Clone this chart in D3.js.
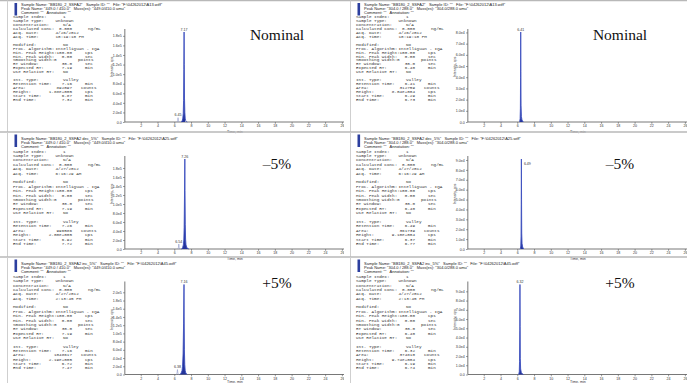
<!DOCTYPE html>
<html><head><meta charset="utf-8">
<script src="https://cdn.jsdelivr.net/npm/d3@7"></script>
<style>body{margin:0;background:#fff}svg{display:block}</style>
</head><body>
<script>
// ---------- DATA ----------
const panelColumn = [0, 1, 0, 1, 0, 1];
const panelRow    = [0, 0, 1, 1, 2, 2];
const conditionLabels = ["Nominal", "Nominal", "\u20135%", "\u20135%", "+5%", "+5%"];
const sampleNames = ["BB180_2_SSFA2", "BB180_2_SSFA2", "BB180_2_SSFA2 dec_5%", "BB180_2_SSFA2 dec_5%", "BB180_2_SSFA2 inc_5%", "BB180_2_SSFA2 inc_5%"];
const fileNames = ["F:\\04262012\\A13.wiff", "F:\\04262012\\A13.wiff", "F:\\04262012\\A25.wiff", "F:\\04262012\\A25.wiff", "F:\\04262012\\A45.wiff", "F:\\04262012\\A45.wiff"];
const peakNames = ["449.0 / 410.0", "304.0 / 288.0", "449.0 / 410.0", "304.0 / 288.0", "449.0 / 410.0", "304.0 / 288.0"];
const massNames = ["449.0/410.0 amu", "304.0/288.0 amu", "449.0/410.0 amu", "304.0/288.0 amu", "449.0/410.0 amu", "304.0/288.0 amu"];
const acqDates = ["4/26/2012", "4/26/2012", "4/27/2012", "4/27/2012", "4/27/2012", "4/27/2012"];
const acqTimes = ["10:19:10 PM", "10:19:10 PM", "6:16:29 AM", "6:16:29 AM", "2:13:45 PM", "2:13:45 PM"];
const expectedRT = ["7.19", "6.40", "7.19", "6.40", "7.19", "6.40"];
const retentionTimes = ["7.16", "6.41", "7.26", "6.49", "7.16", "6.32"];
const areas = ["892097", "312759", "996586", "361739", "1048617", "374810"];
const heights = ["1.88e+005", "8.04e+004", "2.00e+005", "9.10e+004", "2.19e+005", "9.74e+004"];
const startTimes = ["6.87", "6.29", "6.92", "6.37", "6.72", "6.19"];
const endTimes = ["7.32", "6.73", "7.72", "6.77", "7.47", "6.74"];

const yMax = [188000, 80400, 200000, 91000, 219000, 97400];
const yTickValues = [
  [0, 20000, 40000, 60000, 80000, 100000, 120000, 140000, 160000, 180000],
  [0, 10000, 20000, 30000, 40000, 50000, 60000, 70000, 80000],
  [0, 20000, 40000, 60000, 80000, 100000, 120000, 140000, 160000, 180000],
  [0, 10000, 20000, 30000, 40000, 50000, 60000, 70000, 80000, 90000],
  [0, 20000, 40000, 60000, 80000, 100000, 120000, 140000, 160000, 180000, 200000],
  [0, 10000, 20000, 30000, 40000, 50000, 60000, 70000, 80000, 90000]
];
const yTickLabels = [
  ["0.0", "2.0e4", "4.0e4", "6.0e4", "8.0e4", "1.0e5", "1.2e5", "1.4e5", "1.6e5", "1.8e5"],
  ["0.0", "1.0e4", "2.0e4", "3.0e4", "4.0e4", "5.0e4", "6.0e4", "7.0e4", "8.0e4"],
  ["0.0", "2.0e4", "4.0e4", "6.0e4", "8.0e4", "1.0e5", "1.2e5", "1.4e5", "1.6e5", "1.8e5"],
  ["0.0", "1.0e4", "2.0e4", "3.0e4", "4.0e4", "5.0e4", "6.0e4", "7.0e4", "8.0e4", "9.0e4"],
  ["0.0", "2.0e4", "4.0e4", "6.0e4", "8.0e4", "1.0e5", "1.2e5", "1.4e5", "1.6e5", "1.8e5", "2.0e5"],
  ["0.0", "1.0e4", "2.0e4", "3.0e4", "4.0e4", "5.0e4", "6.0e4", "7.0e4", "8.0e4", "9.0e4"]
];
const xTickValues = [2, 4, 6, 8, 10, 12, 14, 16, 18, 20, 22, 24, 26];
const xDomain = [0.1, 26.6];

// main peak traces: [time (min), intensity (cps)]
const mainPeakTraces = [
  [[6.80,0],[6.87,800],[6.95,3000],[7.02,8000],[7.07,18000],[7.11,45000],[7.14,110000],[7.17,188000],[7.19,120000],[7.22,50000],[7.26,20000],[7.30,8000],[7.36,3000],[7.45,800],[7.55,0]],
  [[6.22,0],[6.29,500],[6.34,3000],[6.37,12000],[6.39,40000],[6.41,80400],[6.43,45000],[6.45,15000],[6.49,5000],[6.56,1800],[6.65,600],[6.73,0]],
  [[6.85,0],[6.92,900],[7.00,3500],[7.08,9000],[7.14,20000],[7.18,48000],[7.22,120000],[7.26,200000],[7.28,130000],[7.31,55000],[7.35,22000],[7.40,9000],[7.50,3500],[7.62,1200],[7.72,0]],
  [[6.30,0],[6.37,500],[6.42,3000],[6.45,13000],[6.47,45000],[6.49,91000],[6.51,50000],[6.53,16000],[6.57,5500],[6.64,2000],[6.72,700],[6.77,0]],
  [[6.65,0],[6.72,900],[6.82,3500],[6.92,9000],[6.99,20000],[7.05,50000],[7.11,125000],[7.16,219000],[7.18,140000],[7.21,60000],[7.25,24000],[7.30,10000],[7.37,4000],[7.47,1000],[7.55,0]],
  [[6.12,0],[6.19,500],[6.24,3200],[6.27,14000],[6.30,48000],[6.32,97400],[6.34,52000],[6.36,17000],[6.40,6000],[6.48,2200],[6.60,700],[6.74,0]]
];
const mainPeakLabels = ["7.17", "6.41", "7.26", "6.49", "7.16", "6.32"];
const mainPeakApex = [[7.17,188000],[6.41,80400],[7.26,200000],[6.49,91000],[7.16,219000],[6.32,97400]];

const minorPeakTraces = [
  [[6.33,0],[6.40,2500],[6.45,9000],[6.50,2500],[6.57,0]],
  null,
  [[6.42,0],[6.49,3000],[6.54,11000],[6.59,3000],[6.66,0]],
  null,
  [[6.26,0],[6.33,3500],[6.38,12000],[6.43,3500],[6.50,0]],
  null
];
const minorPeakLabels = ["6.45", null, "6.54", null, "6.38", null];
const minorPeakApex = [[6.45,9000], null, [6.54,11000], null, [6.38,12000], null];

const infoLabels = ["Sample Index:","Sample Type:","Concentration:","Calculated Conc:","Acq. Date:","Acq. Time:","","Modified:","Proc. Algorithm:","Min. Peak Height:","Min. Peak Width:","Smoothing Width:","RT Window:","Expected RT:","Use Relative RT:","","Int. Type:","Retention Time:","Area:","Height:","Start Time:","End Time:"];
const infoUnits = ["","","","ng/mL","","","","","","cps","sec","points","sec","min","","","","min","counts","cps","min","min"];

// ---------- LAYOUT ----------
const W = 687, H = 383;
const colX = [0, 343];
const colClip = [[0, 344], [344, 687]];
const rowTop = [0.5, 132, 257];
const rowBottom = [132, 257, 383];
const headerBase = [6, 140, 264.5];
const infoBase = [18, 152.5, 278];
const infoStep = [3.95, 4.4, 4.35];
const zeroY = [122, 249, 374.5];
const titleDy = [10.5, 10.5, 8.4];
const condBase = [40, 169, 288];
const plotH = 90;
const labelRight = [false, false, false, true, false, false];

const svg = d3.select("body").append("svg").attr("width", W).attr("height", H)
  .style("font-family", "'Liberation Sans', Arial, sans-serif");
svg.append("rect").attr("width", W).attr("height", H).attr("fill", "#fff");

const defs = svg.append("defs");
colClip.forEach((c, i) => {
  defs.append("clipPath").attr("id", "col" + i).append("rect")
    .attr("x", c[0]).attr("y", 0).attr("width", c[1] - c[0]).attr("height", H);
});

const alignMode = ["c","L","c","r","L","L","","c","L","r","r","l0","r","r","c","","c","r","r","r","r","r"];
const unitX = {"ng/mL": 88, "cps": 85, "sec": 85, "points": 78, "min": 85, "counts": 81};

panelColumn.forEach((col, i) => {
  const row = panelRow[i];
  const x0 = colX[col];
  const g = svg.append("g").attr("clip-path", `url(#col${col})`);

  // frame lines
  g.append("line").attr("x1", x0).attr("x2", x0 + 345).attr("y1", rowTop[row]).attr("y2", rowTop[row])
    .attr("stroke", "#b8b8b8").attr("stroke-width", 1.5);
  g.append("line").attr("x1", x0 + 7.5).attr("x2", x0 + 7.5).attr("y1", rowTop[row]).attr("y2", rowBottom[row])
    .attr("stroke", "#cfcfcf").attr("stroke-width", 1);

  // blue bar
  g.append("rect").attr("x", x0 + 14.5).attr("y", rowTop[row] + 2.5).attr("width", 2.6).attr("height", 12.5)
    .attr("fill", "#2c3f9f");

  // header
  const hdr = [
    `Sample Name: "${sampleNames[i]}"   Sample ID: ""   File: "${fileNames[i]}"`,
    `Peak Name: "${peakNames[i]}"   Mass(es): "${massNames[i]}"`,
    `Comment: ""   Annotation: ""`
  ];
  hdr.forEach((t, k) => {
    g.append("text").attr("x", x0 + 21).attr("y", headerBase[row] + k * 4.2)
      .attr("font-size", 4).attr("fill", "#222").style("white-space", "pre").text(t);
  });

  // info block
  const vals = ["1","Unknown","N/A","0.000",acqDates[i],acqTimes[i],"","No","IntelliQuan - IQA","100.00","0.00","0","30.0",expectedRT[i],"No","","Valley",retentionTimes[i],areas[i],heights[i],startTimes[i],endTimes[i]];
  const ig = g.append("g").attr("font-family", "'Liberation Mono', 'Courier New', monospace")
    .attr("font-size", 4.3).attr("fill", "#333");
  infoLabels.forEach((lab, k) => {
    const y = infoBase[row] + k * infoStep[row];
    if (lab) ig.append("text").attr("x", x0 + 13).attr("y", y).text(lab);
    const v = vals[k];
    if (v) {
      const m = alignMode[k];
      let x = x0 + 63, anchor = "start";
      if (m === "L") x = x0 + 55.5;
      if (m === "l0") x = x0 + 54;
      if (m === "r") { x = x0 + 72; anchor = "end"; }
      ig.append("text").attr("x", x).attr("y", y).attr("text-anchor", anchor).text(v);
    }
    const u = infoUnits[k];
    if (u) ig.append("text").attr("x", x0 + unitX[u]).attr("y", y).text(u);
  });

  // scales
  const xs = d3.scaleLinear().domain([0, 26.6]).range([x0 + 124, x0 + 124 + 26.6 * 8.38]);
  const ys = d3.scaleLinear().domain([0, yMax[i]]).range([zeroY[row], zeroY[row] - plotH]);

  // axes
  const xAxis = d3.axisBottom(xs).tickValues(xTickValues).tickSize(1.8).tickPadding(1.0).tickFormat(d3.format("d"));
  const xg = g.append("g").attr("transform", `translate(0,${zeroY[row]})`).call(xAxis);
  xg.select(".domain").attr("d", `M${xs(xDomain[0])},0H${xs(xDomain[1])}`).attr("stroke", "#555").attr("stroke-width", 0.8);
  xg.selectAll(".tick line").attr("stroke", "#555").attr("stroke-width", 0.6);
  xg.selectAll(".tick text").attr("font-size", 3.6).attr("fill", "#333").attr("font-family", "'Liberation Sans', Arial, sans-serif");

  const yAxis = d3.axisLeft(ys).tickValues(yTickValues[i]).tickSize(1.8).tickPadding(1.2)
    .tickFormat((d, k) => yTickLabels[i][k]);
  const yg = g.append("g").attr("transform", `translate(${xs(xDomain[0])},0)`).call(yAxis);
  yg.select(".domain").attr("d", `M0,${zeroY[row]}V${zeroY[row] - plotH - 3}`).attr("stroke", "#555").attr("stroke-width", 0.8);
  yg.selectAll(".tick line").attr("stroke", "#555").attr("stroke-width", 0.6);
  yg.selectAll(".tick text").attr("font-size", 3.6).attr("fill", "#333").attr("font-family", "'Liberation Sans', Arial, sans-serif");

  // axis titles
  g.append("text").attr("x", (xs(xDomain[0]) + x0 + 345) / 2).attr("y", zeroY[row] + titleDy[row])
    .attr("text-anchor", "middle").attr("font-size", 3.6).attr("fill", "#333").text("Time, min");
  g.append("text").attr("transform", `translate(${x0 + 113},${zeroY[row] - 55}) rotate(-90)`)
    .attr("text-anchor", "middle").attr("font-size", 3.6).attr("fill", "#333").text("Intensity, cps");

  // minor peak
  if (minorPeakTraces[i]) {
    const line = d3.line().x(d => xs(d[0])).y(d => ys(d[1]));
    g.append("path").attr("d", line(minorPeakTraces[i])).attr("fill", "none")
      .attr("stroke", "#8d97c9").attr("stroke-width", 0.6);
    const a = minorPeakApex[i];
    g.append("text").attr("x", xs(a[0])).attr("y", ys(a[1]) - 1.5).attr("text-anchor", "middle")
      .attr("font-size", 3.6).attr("fill", "#333").text(minorPeakLabels[i]);
  }

  // main peak: integrated area + trace
  const st = +startTimes[i], et = +endTimes[i];
  const area = d3.area().x(d => xs(d[0])).y0(zeroY[row]).y1(d => ys(d[1]));
  g.append("path").attr("d", area(mainPeakTraces[i].filter(d => d[0] >= st && d[0] <= et)))
    .attr("fill", "#24349a");
  const line = d3.line().x(d => xs(d[0])).y(d => ys(d[1]));
  g.append("path").attr("d", line(mainPeakTraces[i])).attr("fill", "none")
    .attr("stroke", "#3d50c0").attr("stroke-width", 0.9);
  const ap = mainPeakApex[i];
  if (labelRight[i]) {
    g.append("text").attr("x", xs(ap[0]) + 2.5).attr("y", ys(ap[1]) + 6)
      .attr("font-size", 3.6).attr("fill", "#333").text(mainPeakLabels[i]);
  } else {
    g.append("text").attr("x", xs(ap[0])).attr("y", ys(ap[1]) - 1.5).attr("text-anchor", "middle")
      .attr("font-size", 3.6).attr("fill", "#333").text(mainPeakLabels[i]);
  }

  // condition label
  g.append("text").attr("x", x0 + 277).attr("y", condBase[row]).attr("text-anchor", "middle")
    .attr("font-family", "'Liberation Serif', 'Times New Roman', serif").attr("font-size", 15.5)
    .attr("fill", "#111").text(conditionLabels[i]);
});
</script>
</body></html>
